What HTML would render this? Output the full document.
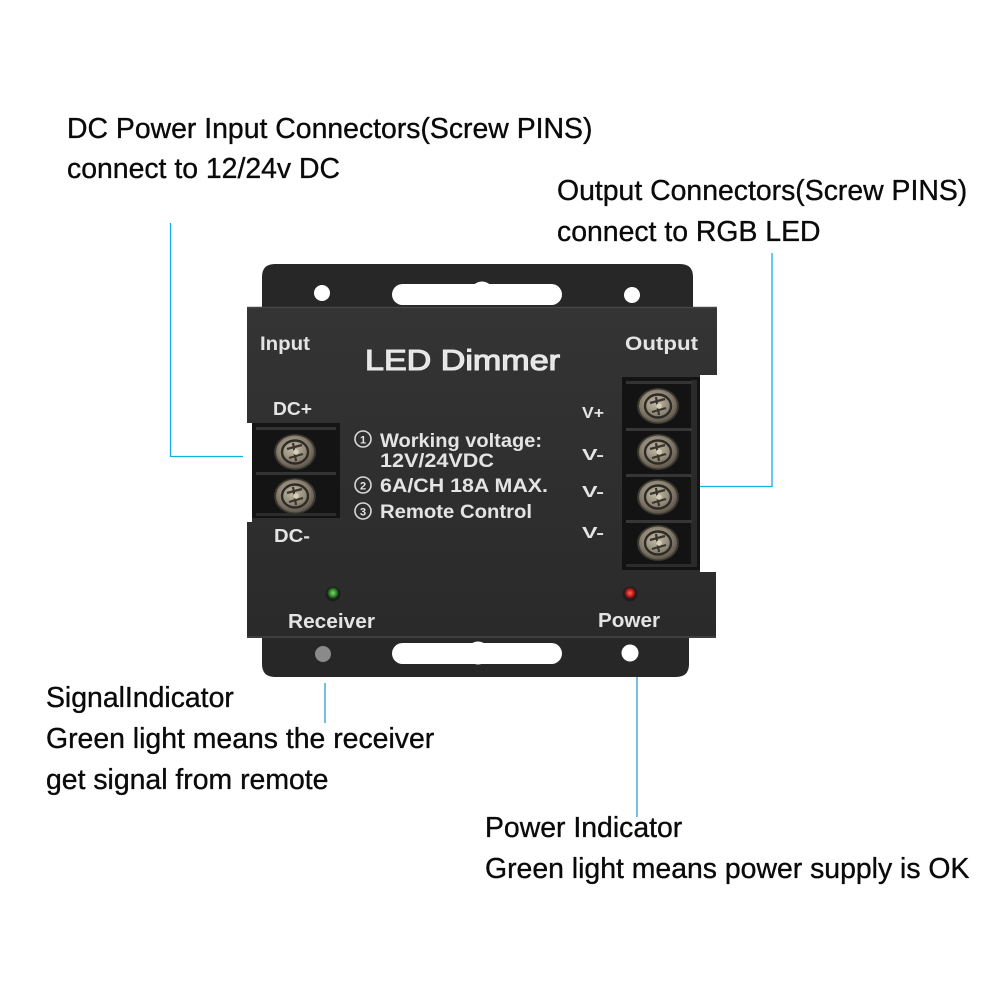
<!DOCTYPE html>
<html>
<head>
<meta charset="utf-8">
<style>
  html,body{margin:0;padding:0;background:#fff;}
  svg{display:block;}
  .lbl{font-family:"Liberation Sans",Arial,sans-serif;font-size:28.4px;fill:#0a0a0a;stroke:#0a0a0a;stroke-width:0.35px;}
  .dev{font-family:"Liberation Sans",Arial,sans-serif;font-weight:bold;fill:#e4e4e4;}
</style>
</head>
<body>
<svg width="1000" height="1000" viewBox="0 0 1000 1000" xmlns="http://www.w3.org/2000/svg">
  <defs>
    <radialGradient id="scr" cx="0.45" cy="0.4" r="0.6">
      <stop offset="0" stop-color="#c4bba8"/>
      <stop offset="0.6" stop-color="#8e8574"/>
      <stop offset="1" stop-color="#5e574b"/>
    </radialGradient>
    <radialGradient id="gled" cx="0.5" cy="0.5" r="0.5">
      <stop offset="0" stop-color="#7fdc6a"/>
      <stop offset="0.6" stop-color="#2f8f2a"/>
      <stop offset="1" stop-color="#1d3a1b"/>
    </radialGradient>
    <radialGradient id="rled" cx="0.5" cy="0.5" r="0.5">
      <stop offset="0" stop-color="#ff6a5a"/>
      <stop offset="0.6" stop-color="#c81e1e"/>
      <stop offset="1" stop-color="#4a1414"/>
    </radialGradient>
    <linearGradient id="bodyg" x1="0" y1="0" x2="0" y2="1">
      <stop offset="0" stop-color="#343434"/>
      <stop offset="1" stop-color="#2a2a2a"/>
    </linearGradient>
    <g id="screw">
      <ellipse cx="0" cy="0" rx="21" ry="18" fill="#3b3832"/>
      <ellipse cx="0" cy="0" rx="19" ry="16.5" fill="url(#scr)"/>
      <ellipse cx="0" cy="0" rx="13" ry="11.5" fill="none" stroke="#2e2b26" stroke-width="2.4"/>
      <path d="M-8,-3 L7,-7 M-6,6 L8,2 M-2,-9 L1,9" stroke="#3a352d" stroke-width="2.2" fill="none"/>
      <circle cx="1" cy="0" r="2.8" fill="#d6cdb9"/>
    </g>
  </defs>

  <rect width="1000" height="1000" fill="#fff"/>

  <!-- Top flange -->
  <path d="M262,322 V277 Q262,264 275,264 H680 Q693,264 693,277 V322 Z" fill="#272727"/>
  <!-- Bottom flange -->
  <path d="M262,628 V664 Q262,677 275,677 H676 Q689,677 689,664 V628 Z" fill="#272727"/>

  <!-- Main body -->
  <path d="M247,307 H717 V375 H700 V572 H716 V638 H247 V522 H252 V423 H247 Z" fill="url(#bodyg)"/>
  <line x1="247" y1="307.5" x2="717" y2="307.5" stroke="#474747" stroke-width="1.5"/>
  <line x1="247" y1="637" x2="716" y2="637" stroke="#444" stroke-width="1.5"/>

  <!-- Holes & slots top -->
  <circle cx="322" cy="293" r="8" fill="#fff"/>
  <circle cx="632" cy="295" r="8" fill="#fff"/>
  <rect x="392" y="284" width="170" height="21" rx="10.5" fill="#fff"/>
  <circle cx="482" cy="293" r="11.5" fill="#fff"/>
  <!-- Holes & slots bottom -->
  <circle cx="323" cy="654" r="8" fill="#8a8a8a"/>
  <circle cx="630" cy="653" r="8.5" fill="#fff"/>
  <rect x="392" y="643" width="170" height="21" rx="10.5" fill="#fff"/>
  <circle cx="478" cy="653" r="11.5" fill="#fff"/>

  <!-- Left terminal block -->
  <rect x="252" y="423" width="88" height="95" fill="#141414"/>
  <rect x="256" y="427" width="80" height="3" fill="#333"/>
  <rect x="256" y="472" width="80" height="3" fill="#333"/>
  <rect x="256" y="513" width="80" height="3" fill="#2c2c2c"/>
  <use href="#screw" x="295" y="452"/>
  <use href="#screw" x="295" y="496"/>

  <!-- Right terminal block -->
  <rect x="622" y="377" width="78" height="193" fill="#131313"/>
  <rect x="691" y="380" width="6" height="187" fill="#2a2a2a"/>
  <rect x="626" y="381" width="66" height="3" fill="#333"/>
  <rect x="626" y="428" width="66" height="3" fill="#363636"/>
  <rect x="626" y="474" width="66" height="3" fill="#363636"/>
  <rect x="626" y="520" width="66" height="3" fill="#363636"/>
  <rect x="626" y="564" width="66" height="3" fill="#2c2c2c"/>
  <use href="#screw" x="658" y="406"/>
  <use href="#screw" x="658" y="452"/>
  <use href="#screw" x="658" y="497"/>
  <use href="#screw" x="658" y="543"/>

  <!-- Device text -->
  <text class="dev" x="260" y="350" font-size="19" textLength="50" lengthAdjust="spacingAndGlyphs">Input</text>
  <text class="dev" x="625" y="350" font-size="19" textLength="73" lengthAdjust="spacingAndGlyphs">Output</text>
  <text class="dev" x="365" y="370" font-size="29" style="font-weight:normal" stroke="#ececec" stroke-width="1.1" textLength="195" lengthAdjust="spacingAndGlyphs">LED Dimmer</text>
  <text class="dev" x="273" y="415" font-size="18" textLength="39" lengthAdjust="spacingAndGlyphs">DC+</text>
  <text class="dev" x="274" y="542" font-size="18" textLength="36" lengthAdjust="spacingAndGlyphs">DC-</text>

  <g fill="none" stroke="#d8d8d8" stroke-width="1.6">
    <circle cx="363" cy="439" r="8"/>
    <circle cx="363" cy="485" r="8"/>
    <circle cx="363" cy="511" r="8"/>
  </g>
  <text class="dev" x="363" y="443.5" font-size="11" text-anchor="middle">1</text>
  <text class="dev" x="363" y="489.5" font-size="11" text-anchor="middle">2</text>
  <text class="dev" x="363" y="515.5" font-size="11" text-anchor="middle">3</text>
  <text class="dev" x="380" y="447" font-size="19.5" textLength="162" lengthAdjust="spacingAndGlyphs">Working voltage:</text>
  <text class="dev" x="380" y="467" font-size="19.5" textLength="114" lengthAdjust="spacingAndGlyphs">12V/24VDC</text>
  <text class="dev" x="380" y="492" font-size="19" textLength="168" lengthAdjust="spacingAndGlyphs">6A/CH  18A MAX.</text>
  <text class="dev" x="380" y="518" font-size="19.5" textLength="152" lengthAdjust="spacingAndGlyphs">Remote Control</text>

  <text class="dev" x="582" y="418" font-size="16" textLength="22" lengthAdjust="spacingAndGlyphs">V+</text>
  <text class="dev" x="582" y="460" font-size="16" textLength="22" lengthAdjust="spacingAndGlyphs">V-</text>
  <text class="dev" x="582" y="497" font-size="16" textLength="22" lengthAdjust="spacingAndGlyphs">V-</text>
  <text class="dev" x="582" y="538" font-size="16" textLength="22" lengthAdjust="spacingAndGlyphs">V-</text>

  <!-- LEDs -->
  <circle cx="333" cy="594" r="7.5" fill="#1e1e1e"/>
  <circle cx="333" cy="593" r="5.5" fill="url(#gled)"/>
  <circle cx="630" cy="594" r="7.5" fill="#1e1e1e"/>
  <circle cx="630" cy="593" r="5.5" fill="url(#rled)"/>

  <text class="dev" x="288" y="628" font-size="20" textLength="87" lengthAdjust="spacingAndGlyphs">Receiver</text>
  <text class="dev" x="598" y="627" font-size="20" textLength="62" lengthAdjust="spacingAndGlyphs">Power</text>

  <!-- Connector lines -->
  <g fill="none" stroke="#12aee6" stroke-width="1.3">
    <path d="M170.5,223 V456.5 H243"/>
    <path d="M772,253 V486.5 H700"/>
    <path d="M325,683 V723" stroke="#2a9fd6"/>
    <path d="M637,677 V817" stroke="#2a9fd6"/>
  </g>

  <!-- Labels -->
  <text class="lbl" x="67" y="138">DC Power Input Connectors(Screw PINS)</text>
  <text class="lbl" x="67" y="178">connect to 12/24v DC</text>
  <text class="lbl" x="557" y="200">Output Connectors(Screw PINS)</text>
  <text class="lbl" x="557" y="241">connect to RGB LED</text>
  <text class="lbl" x="46" y="707">SignalIndicator</text>
  <text class="lbl" x="46" y="748">Green light means the receiver</text>
  <text class="lbl" x="46" y="789">get signal from remote</text>
  <text class="lbl" x="485" y="837">Power Indicator</text>
  <text class="lbl" x="485" y="878">Green light means power supply is OK</text>
</svg>
</body>
</html>
